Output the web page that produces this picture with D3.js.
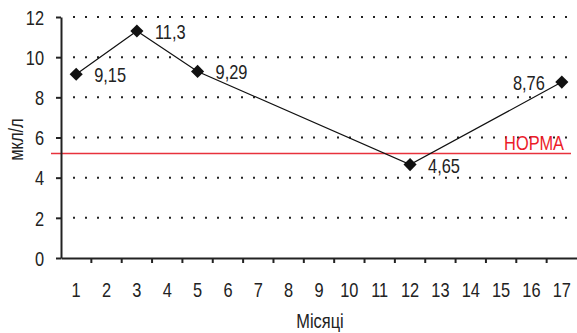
<!DOCTYPE html>
<html><head><meta charset="utf-8">
<script src="https://cdn.jsdelivr.net/npm/d3@7/dist/d3.min.js"></script>
<style>
body{margin:0;background:#fff;}
svg text{font-family:"Liberation Sans",Arial,sans-serif;}
</style></head>
<body><svg id="c" width="577" height="333"></svg>
<script>
const categories = ["1","2","3","4","5","6","7","8","9","10","11","12","13","14","15","16","17"];
const pointMonths = ["1","3","5","12","17"];
const pointValues = [9.15, 11.3, 9.29, 4.65, 8.76];
const pointLabels = ["9,15","11,3","9,29","4,65","8,76"];
const yTicks = [0,2,4,6,8,10,12];
const normValue = 5.2;
const normLabel = "НОРМА";
const yTitle = "мкл/л";
const xTitle = "Місяці";

const svg = d3.select("#c");
const L = 61, R = 577, T = 17, B = 258;
const x = d3.scaleBand().domain(categories).range([L, R]);
const y = d3.scaleLinear().domain([0, 12]).range([B, T]);
const fs = 20;
const SX = 0.82; // condensed look

// turn x/y into a transform and squeeze glyphs horizontally
function condense(sel, extra = "") {
  sel.each(function () {
    const t = d3.select(this);
    const tx = +t.attr("x") || 0, ty = +t.attr("y") || 0;
    t.attr("x", 0).attr("y", 0)
      .attr("transform", `translate(${tx},${ty}) ${extra} scale(${SX},1)`);
  });
}

// dotted gridlines
svg.append("g").selectAll("line").data(yTicks.filter(d => d > 0)).join("line")
  .attr("x1", L + 12).attr("x2", R).attr("y1", d => y(d)).attr("y2", d => y(d))
  .attr("stroke", "#222").attr("stroke-width", 2).attr("stroke-dasharray", "2 10");

// norm line
svg.append("line").attr("x1", 51).attr("x2", 571)
  .attr("y1", y(normValue)).attr("y2", y(normValue))
  .attr("stroke", "#e8323c").attr("stroke-width", 1.5);
svg.append("text").attr("x", 564).attr("y", y(normValue) - 4)
  .attr("text-anchor", "end").attr("font-size", fs).attr("fill", "#ec1c2a").text(normLabel)
  .call(condense);

// y axis
const yAxis = svg.append("g").attr("transform", `translate(${L},0)`)
  .call(d3.axisLeft(y).tickValues(yTicks).tickSize(5).tickPadding(12).tickSizeOuter(0));
yAxis.attr("font-family", null);
yAxis.select(".domain").attr("stroke", "#222").attr("stroke-width", 2);
yAxis.selectAll(".tick line").attr("stroke", "#222").attr("stroke-width", 2);
yAxis.selectAll(".tick text").attr("font-size", fs).attr("fill", "#222").attr("dy", "0.36em")
  .call(condense);

// x axis
const xAxis = svg.append("g").attr("transform", `translate(0,${B})`)
  .call(d3.axisBottom(x).tickSize(0).tickPadding(25).tickSizeOuter(0));
xAxis.attr("font-family", null);
xAxis.select(".domain").attr("stroke", "#222").attr("stroke-width", 2);
xAxis.selectAll(".tick text").attr("font-size", fs).attr("fill", "#222").attr("dy", "0.71em")
  .call(condense);
// tick marks at band boundaries
svg.append("g").selectAll("line").data(categories.slice(1)).join("line")
  .attr("x1", d => x(d)).attr("x2", d => x(d)).attr("y1", B).attr("y2", B + 5)
  .attr("stroke", "#222").attr("stroke-width", 2);

// series
const pts = pointMonths.map((m, i) => ({m, v: pointValues[i], lab: pointLabels[i]}));
const cx = d => x(d.m) + x.bandwidth() / 2;
svg.append("path").datum(pts)
  .attr("d", d3.line().x(cx).y(d => y(d.v)))
  .attr("fill", "none").attr("stroke", "#111").attr("stroke-width", 1.2);
svg.append("g").selectAll("path").data(pts).join("path")
  .attr("d", d3.symbol(d3.symbolSquare, 86))
  .attr("transform", d => `translate(${cx(d)},${y(d.v)}) rotate(45)`)
  .attr("fill", "#111");
svg.append("g").selectAll("text").data(pts).join("text")
  .attr("x", (d, i) => i === pts.length - 1 ? cx(d) - 17 : cx(d) + 18)
  .attr("y", d => y(d.v) + 8)
  .attr("text-anchor", (d, i) => i === pts.length - 1 ? "end" : "start")
  .attr("font-size", fs).attr("fill", "#222").text(d => d.lab)
  .call(condense);

// titles
svg.append("text").attr("x", 23).attr("y", (T + B) / 2 + 2)
  .attr("text-anchor", "middle").attr("font-size", fs).attr("fill", "#222").text(yTitle)
  .call(condense, "rotate(-90)");
svg.append("text").attr("x", (L + R) / 2 + 1).attr("y", 328)
  .attr("text-anchor", "middle").attr("font-size", fs).attr("fill", "#222").text(xTitle)
  .call(condense);
</script></body></html>
